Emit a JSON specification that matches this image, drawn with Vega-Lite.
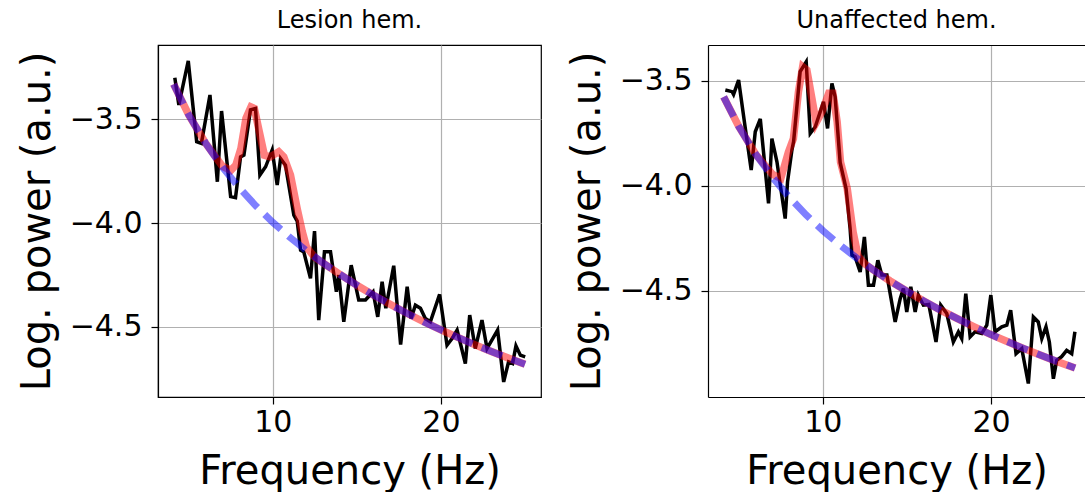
{
  "$schema": "https://vega.github.io/schema/vega-lite/v6.json",
  "background": "white",
  "padding": {"left": 16, "top": 8, "right": 0, "bottom": 0},
  "autosize": {"type": "pad"},
  "spacing": 167,
  "bounds": "flush",
  "config": {
    "font": "DejaVu Sans",
    "axis": {
      "domainColor": "black", "domainWidth": 1.2,
      "tickColor": "black", "tickWidth": 1.2, "tickSize": 7,
      "labelFont": "DejaVu Sans", "labelFontSize": 30, "labelColor": "black", "labelPadding": 9,
      "titleFont": "DejaVu Sans", "titleFontSize": 40, "titleFontWeight": "normal", "titleColor": "black",
      "gridColor": "#b0b0b0", "gridWidth": 1.2
    },
    "axisX": {"titlePadding": 14, "labelPadding": 3},
    "axisY": {"titlePadding": 12},
    "title": {"font": "DejaVu Sans", "fontSize": 24, "fontWeight": "normal", "color": "black", "baseline": "alphabetic", "offset": 12, "anchor": "middle", "frame": "group"}
  },
  "datasets": {
    "lpsd": [
      {"f": 4.17, "y": -3.299}, {"f": 4.41, "y": -3.430}, {"f": 4.97, "y": -3.218}, {"f": 5.47, "y": -3.607},
      {"f": 5.75, "y": -3.615}, {"f": 6.26, "y": -3.382}, {"f": 6.70, "y": -3.800}, {"f": 6.95, "y": -3.459},
      {"f": 7.49, "y": -3.872}, {"f": 7.78, "y": -3.877}, {"f": 8.08, "y": -3.680}, {"f": 8.28, "y": -3.672},
      {"f": 8.67, "y": -3.454}, {"f": 8.97, "y": -3.447}, {"f": 9.23, "y": -3.768}, {"f": 9.57, "y": -3.728},
      {"f": 9.96, "y": -3.647}, {"f": 10.26, "y": -3.816}, {"f": 10.46, "y": -3.688}, {"f": 10.75, "y": -3.720},
      {"f": 11.25, "y": -3.961}, {"f": 11.45, "y": -3.990}, {"f": 11.65, "y": -4.130}, {"f": 11.84, "y": -4.138},
      {"f": 12.24, "y": -4.266}, {"f": 12.48, "y": -4.038}, {"f": 12.73, "y": -4.467}, {"f": 13.07, "y": -4.138},
      {"f": 13.43, "y": -4.138}, {"f": 13.78, "y": -4.330}, {"f": 13.92, "y": -4.250}, {"f": 14.22, "y": -4.475},
      {"f": 14.66, "y": -4.202}, {"f": 15.11, "y": -4.370}, {"f": 15.51, "y": -4.370}, {"f": 15.96, "y": -4.330},
      {"f": 16.24, "y": -4.451}, {"f": 16.50, "y": -4.282}, {"f": 16.72, "y": -4.410}, {"f": 17.19, "y": -4.205},
      {"f": 17.60, "y": -4.585}, {"f": 17.99, "y": -4.306}, {"f": 18.22, "y": -4.459}, {"f": 18.48, "y": -4.395},
      {"f": 18.78, "y": -4.410}, {"f": 19.07, "y": -4.459}, {"f": 19.37, "y": -4.475}, {"f": 19.92, "y": -4.343},
      {"f": 20.36, "y": -4.588}, {"f": 20.66, "y": -4.556}, {"f": 20.96, "y": -4.515}, {"f": 21.45, "y": -4.676},
      {"f": 21.71, "y": -4.443}, {"f": 22.04, "y": -4.604}, {"f": 22.44, "y": -4.467}, {"f": 22.74, "y": -4.604},
      {"f": 23.37, "y": -4.515}, {"f": 23.73, "y": -4.765}, {"f": 24.02, "y": -4.668}, {"f": 24.26, "y": -4.676},
      {"f": 24.46, "y": -4.591}, {"f": 24.72, "y": -4.636}, {"f": 25.01, "y": -4.644}
    ],
    "lfit": [
      {"f": 4.1, "y": -3.330}, {"f": 5, "y": -3.478}, {"f": 6, "y": -3.614}, {"f": 7, "y": -3.725},
      {"f": 7.5, "y": -3.745}, {"f": 7.8, "y": -3.720}, {"f": 8.1, "y": -3.640}, {"f": 8.4, "y": -3.495},
      {"f": 8.7, "y": -3.440}, {"f": 8.9, "y": -3.447}, {"f": 9.2, "y": -3.560}, {"f": 9.5, "y": -3.672},
      {"f": 9.85, "y": -3.680}, {"f": 10.35, "y": -3.655}, {"f": 10.65, "y": -3.680}, {"f": 11.05, "y": -3.768},
      {"f": 11.45, "y": -3.930}, {"f": 11.75, "y": -4.040}, {"f": 12.0, "y": -4.115}, {"f": 12.5, "y": -4.165},
      {"f": 13, "y": -4.192}, {"f": 14, "y": -4.247}, {"f": 15, "y": -4.299}, {"f": 16, "y": -4.347},
      {"f": 17, "y": -4.392}, {"f": 18, "y": -4.435}, {"f": 19, "y": -4.476}, {"f": 20, "y": -4.514},
      {"f": 21, "y": -4.550}, {"f": 22, "y": -4.585}, {"f": 23, "y": -4.618}, {"f": 24, "y": -4.650},
      {"f": 25, "y": -4.680}
    ],
    "lap": [
      {"f": 4.1, "y": -3.330}, {"f": 5, "y": -3.478}, {"f": 6, "y": -3.614}, {"f": 7, "y": -3.730},
      {"f": 8, "y": -3.829}, {"f": 9, "y": -3.917}, {"f": 10, "y": -3.996}, {"f": 11, "y": -4.067},
      {"f": 12, "y": -4.132}, {"f": 13, "y": -4.192}, {"f": 14, "y": -4.247}, {"f": 15, "y": -4.299},
      {"f": 16, "y": -4.347}, {"f": 17, "y": -4.392}, {"f": 18, "y": -4.435}, {"f": 19, "y": -4.476},
      {"f": 20, "y": -4.514}, {"f": 21, "y": -4.550}, {"f": 22, "y": -4.585}, {"f": 23, "y": -4.618},
      {"f": 24, "y": -4.650}, {"f": 25, "y": -4.680}
    ],
    "rpsd": [
      {"f": 4.20, "y": -3.544}, {"f": 4.60, "y": -3.552}, {"f": 4.69, "y": -3.565}, {"f": 4.99, "y": -3.497},
      {"f": 5.39, "y": -3.727}, {"f": 5.74, "y": -3.925}, {"f": 5.98, "y": -3.743}, {"f": 6.28, "y": -3.682},
      {"f": 6.77, "y": -4.084}, {"f": 6.97, "y": -3.775}, {"f": 7.27, "y": -3.886}, {"f": 7.76, "y": -4.156},
      {"f": 7.90, "y": -3.981}, {"f": 8.16, "y": -3.830}, {"f": 8.26, "y": -3.790}, {"f": 8.65, "y": -3.457},
      {"f": 9.01, "y": -3.410}, {"f": 9.25, "y": -3.751}, {"f": 9.55, "y": -3.719}, {"f": 10.04, "y": -3.600},
      {"f": 10.28, "y": -3.727}, {"f": 10.54, "y": -3.513}, {"f": 10.73, "y": -3.576}, {"f": 11.03, "y": -3.890},
      {"f": 11.38, "y": -4.013}, {"f": 11.62, "y": -4.203}, {"f": 11.73, "y": -4.330}, {"f": 11.92, "y": -4.338},
      {"f": 12.22, "y": -4.410}, {"f": 12.47, "y": -4.243}, {"f": 12.71, "y": -4.473}, {"f": 13.01, "y": -4.473},
      {"f": 13.27, "y": -4.354}, {"f": 13.51, "y": -4.425}, {"f": 13.81, "y": -4.425}, {"f": 14.30, "y": -4.648},
      {"f": 14.60, "y": -4.537}, {"f": 14.79, "y": -4.489}, {"f": 14.99, "y": -4.600}, {"f": 15.23, "y": -4.481},
      {"f": 15.49, "y": -4.600}, {"f": 15.68, "y": -4.520}, {"f": 15.98, "y": -4.568}, {"f": 16.30, "y": -4.565},
      {"f": 16.73, "y": -4.743}, {"f": 17.01, "y": -4.568}, {"f": 17.37, "y": -4.608}, {"f": 17.76, "y": -4.743},
      {"f": 18.06, "y": -4.695}, {"f": 18.26, "y": -4.727}, {"f": 18.50, "y": -4.513}, {"f": 18.76, "y": -4.719},
      {"f": 19.05, "y": -4.695}, {"f": 19.45, "y": -4.703}, {"f": 19.75, "y": -4.663}, {"f": 19.99, "y": -4.520},
      {"f": 20.24, "y": -4.695}, {"f": 20.64, "y": -4.671}, {"f": 20.94, "y": -4.663}, {"f": 21.17, "y": -4.592},
      {"f": 21.49, "y": -4.799}, {"f": 21.83, "y": -4.775}, {"f": 22.22, "y": -4.941}, {"f": 22.52, "y": -4.624},
      {"f": 22.81, "y": -4.648}, {"f": 23.02, "y": -4.727}, {"f": 23.27, "y": -4.671}, {"f": 23.47, "y": -4.743},
      {"f": 23.71, "y": -4.918}, {"f": 23.91, "y": -4.830}, {"f": 24.20, "y": -4.813}, {"f": 24.50, "y": -4.783},
      {"f": 24.80, "y": -4.799}, {"f": 24.99, "y": -4.695}
    ],
    "rfit": [
      {"f": 4.1, "y": -3.577}, {"f": 5, "y": -3.718}, {"f": 6, "y": -3.849}, {"f": 7, "y": -3.945},
      {"f": 7.5, "y": -3.965}, {"f": 7.95, "y": -3.840}, {"f": 8.25, "y": -3.775}, {"f": 8.55, "y": -3.552},
      {"f": 8.8, "y": -3.433}, {"f": 9.05, "y": -3.449}, {"f": 9.35, "y": -3.584}, {"f": 9.6, "y": -3.700},
      {"f": 9.95, "y": -3.648}, {"f": 10.35, "y": -3.560}, {"f": 10.6, "y": -3.560}, {"f": 10.85, "y": -3.695},
      {"f": 11.05, "y": -3.886}, {"f": 11.45, "y": -4.013}, {"f": 11.8, "y": -4.220}, {"f": 12.1, "y": -4.335},
      {"f": 12.5, "y": -4.372}, {"f": 13, "y": -4.400}, {"f": 14, "y": -4.453}, {"f": 15, "y": -4.502},
      {"f": 16, "y": -4.548}, {"f": 17, "y": -4.592}, {"f": 18, "y": -4.632}, {"f": 19, "y": -4.671},
      {"f": 20, "y": -4.708}, {"f": 21, "y": -4.742}, {"f": 22, "y": -4.776}, {"f": 23, "y": -4.807},
      {"f": 24, "y": -4.838}, {"f": 25, "y": -4.867}
    ],
    "rap": [
      {"f": 4.1, "y": -3.577}, {"f": 5, "y": -3.718}, {"f": 6, "y": -3.849}, {"f": 7, "y": -3.959},
      {"f": 8, "y": -4.054}, {"f": 9, "y": -4.138}, {"f": 10, "y": -4.213}, {"f": 11, "y": -4.281},
      {"f": 12, "y": -4.343}, {"f": 13, "y": -4.400}, {"f": 14, "y": -4.453}, {"f": 15, "y": -4.502},
      {"f": 16, "y": -4.548}, {"f": 17, "y": -4.592}, {"f": 18, "y": -4.632}, {"f": 19, "y": -4.671},
      {"f": 20, "y": -4.708}, {"f": 21, "y": -4.742}, {"f": 22, "y": -4.776}, {"f": 23, "y": -4.807},
      {"f": 24, "y": -4.838}, {"f": 25, "y": -4.867}
    ]
  },
  "hconcat": [
    {
      "width": 383,
      "height": 352,
      "title": {"text": "Lesion hem."},
      "view": {"stroke": "black", "strokeWidth": 1.2},
      "encoding": {
        "x": {"field": "f", "type": "quantitative", "scale": {"domain": [3.17, 25.95], "nice": false, "zero": false},
              "axis": {"values": [10, 20], "format": "d", "title": "Frequency (Hz)"}},
        "y": {"field": "y", "type": "quantitative", "scale": {"domain": [-4.8375, -3.141], "nice": false, "zero": false},
              "axis": {"values": [-3.5, -4.0, -4.5], "format": ".1f", "title": "Log. power (a.u.)"}}
      },
      "layer": [
        {"data": {"name": "lpsd"}, "mark": {"type": "line", "color": "black", "strokeWidth": 3.5}},
        {"data": {"name": "lfit"}, "mark": {"type": "line", "color": "#ff0000", "opacity": 0.5, "strokeWidth": 7.5}},
        {"data": {"name": "lap"}, "mark": {"type": "line", "color": "#0000ff", "opacity": 0.5, "strokeWidth": 7, "strokeDash": [22, 10]}}
      ]
    },
    {
      "width": 377,
      "height": 352,
      "title": {"text": "Unaffected hem."},
      "view": {"stroke": null},
      "encoding": {
        "y": {"field": "y", "type": "quantitative", "scale": {"domain": [-5.005, -3.33], "nice": false, "zero": false},
              "axis": {"values": [-3.5, -4.0, -4.5], "format": ".1f", "title": "Log. power (a.u.)"}}
      },
      "layer": [
        {"data": {"name": "rpsd"}, "mark": {"type": "line", "color": "black", "strokeWidth": 3.5},
         "encoding": {"x": {"field": "f", "type": "quantitative", "scale": {"domain": [3.17, 25.59], "nice": false, "zero": false},
              "axis": {"orient": "bottom", "values": [10, 20], "format": "d", "title": "Frequency (Hz)"}}}},
        {"data": {"name": "rfit"}, "mark": {"type": "line", "color": "#ff0000", "opacity": 0.5, "strokeWidth": 7.5},
         "encoding": {"x": {"field": "f", "type": "quantitative", "axis": null}}},
        {"data": {"name": "rap"}, "mark": {"type": "line", "color": "#0000ff", "opacity": 0.5, "strokeWidth": 7, "strokeDash": [22, 10]},
         "encoding": {"x": {"field": "f", "type": "quantitative",
              "axis": {"orient": "top", "labels": false, "ticks": false, "grid": false, "title": null, "domain": true}}}}
      ],
      "resolve": {"axis": {"x": "independent"}}
    }
  ]
}
